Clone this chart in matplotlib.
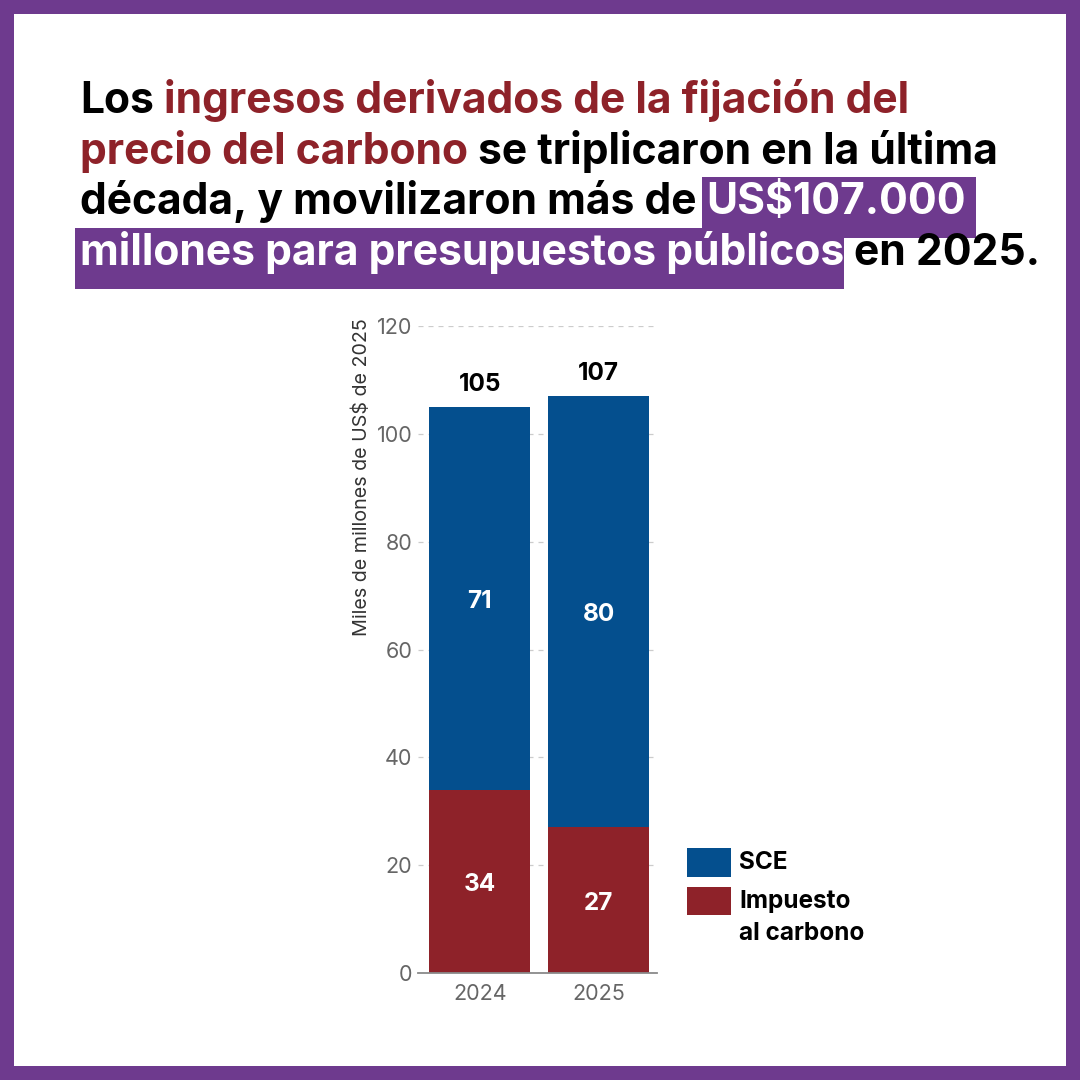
import matplotlib
matplotlib.use("Agg")
import matplotlib.pyplot as plt
from matplotlib.patches import Rectangle

# ---------------- data ----------------
years = ["2024", "2025"]
carbon_tax = [34, 27]
sce = [71, 80]
totals = [105, 107]
y_ticks = [0, 20, 40, 60, 80, 100, 120]
legend_labels = ["SCE", "Impuesto", "al carbono"]
y_label = "Miles de millones de US$ de 2025"
title_lines = [
    [("Los ", "k"), ("ingresos derivados de la fijación del", "r")],
    [("precio del carbono", "r"), (" se triplicaron en la última", "k")],
    [("década, y movilizaron más de ", "k"), ("US$107.000 ", "h")],
    [("millones para presupuestos públicos", "h"), (" en 2025.", "k")],
]

# ---------------- style ----------------
BLUE = "#044F8E"
RED = "#8E2229"
PURPLE = "#6E3A8E"
W = H = 1080
FONT = "Inter"
plt.rcParams["font.family"] = [FONT, "DejaVu Sans"]

fig = plt.figure(figsize=(10.8, 10.8), dpi=100)
fig.patch.set_facecolor("white")


def fx(x):
    return x / W


def fy(y):
    return 1 - y / H


def prect(x0, y0, x1, y1, color, z=1):
    r = Rectangle((fx(x0), fy(y1)), (x1 - x0) / W, (y1 - y0) / H,
                  transform=fig.transFigure, facecolor=color,
                  edgecolor="none", zorder=z)
    fig.patches.append(r)
    return r


# border
B = 14
prect(0, 0, W, B, PURPLE)
prect(0, H - B, W, H, PURPLE)
prect(0, 0, B, H, PURPLE)
prect(W - B, 0, W, H, PURPLE)

# ---------------- title ----------------
renderer = fig.canvas.get_renderer()
TW = "bold"


def text_width(s, size):
    t = fig.text(0, 0, s, fontsize=size, fontweight=TW)
    w = t.get_window_extent(renderer).width
    t.remove()
    return w


# fit the title size so the first line spans the same width as the reference
first_line = "".join(t for t, _ in title_lines[0])
TSIZE = 28 * 830 / text_width(first_line, 28)
space_w = text_width("a a", TSIZE) - text_width("aa", TSIZE)
baselines = [113, 164, 214, 265]

for line, base in zip(title_lines, baselines):
    x = 80
    for txt, kind in line:
        lead = len(txt) - len(txt.lstrip(" "))
        trail = len(txt) - len(txt.rstrip(" "))
        core = txt.strip(" ")
        x += lead * space_w
        color = {"k": "black", "r": RED, "h": "white"}[kind]
        t = fig.text(fx(x), fy(base), core, fontsize=TSIZE, fontweight=TW,
                     color=color, va="baseline", ha="left", zorder=5)
        w = t.get_window_extent(renderer).width
        if kind == "h":
            x_end = x + w + trail * space_w
            prect(x - 5, base - 37, x_end, base + 24, PURPLE, z=2)
        x += w + trail * space_w

# ---------------- chart ----------------
ax_left, ax_right = 418, 657
ax_top, ax_bottom = 326, 973
ax = fig.add_axes([fx(ax_left), fy(ax_bottom), (ax_right - ax_left) / W,
                   (ax_bottom - ax_top) / H])
ax.set_facecolor("none")
xpos = list(range(len(years)))
bw = 0.85
ax.bar(xpos, carbon_tax, width=bw, color=RED, zorder=3)
ax.bar(xpos, sce, width=bw, bottom=carbon_tax, color=BLUE, zorder=3)
ax.set_xlim(-0.52, 1.49)
ax.set_ylim(0, 120)
ax.set_yticks(y_ticks)
ax.set_yticklabels([str(v) for v in y_ticks])
ax.set_xticks(xpos)
ax.set_xticklabels(years)
ax.tick_params(axis="both", length=0, labelsize=15.5, colors="#666666")
ax.tick_params(axis="y", pad=4)
ax.tick_params(axis="x", pad=8)
for s in ["top", "right", "left"]:
    ax.spines[s].set_visible(False)
ax.spines["bottom"].set_color("#8a8a8a")
ax.spines["bottom"].set_linewidth(1.3)
ax.spines["bottom"].set_zorder(4)
ax.yaxis.grid(True, linestyle=(0, (4, 4)), color="#cccccc", linewidth=0.9, zorder=0)
ax.set_axisbelow(True)

VS = 17.5
for i in xpos:
    ax.annotate(str(carbon_tax[i]), (i, carbon_tax[i] / 2), xytext=(0, -6.8),
                textcoords="offset points", ha="center", va="baseline",
                color="white", fontsize=VS, fontweight="bold")
    ax.annotate(str(sce[i]), (i, carbon_tax[i] + sce[i] / 2), xytext=(0, -6.8),
                textcoords="offset points", ha="center", va="baseline",
                color="white", fontsize=VS, fontweight="bold")
    ax.annotate(str(totals[i]), (i, carbon_tax[i] + sce[i]), xytext=(0, 11.5),
                textcoords="offset points", ha="center", va="baseline",
                color="black", fontsize=VS, fontweight="bold")

fig.text(fx(362), fy(318), y_label, rotation=90, ha="center", va="top",
         fontsize=14.2, color="#333333")

# ---------------- legend ----------------
prect(687, 848, 731, 877, BLUE)
prect(687, 887, 731, 915, RED)
LS = 17.5
fig.text(fx(739), fy(869), legend_labels[0], fontsize=LS, fontweight="bold",
         color="black", va="baseline", ha="left")
fig.text(fx(739), fy(908), legend_labels[1], fontsize=LS, fontweight="bold",
         color="black", va="baseline", ha="left")
fig.text(fx(739), fy(940), legend_labels[2], fontsize=LS, fontweight="bold",
         color="black", va="baseline", ha="left")

fig.savefig("out.png", dpi=100, facecolor="white")
